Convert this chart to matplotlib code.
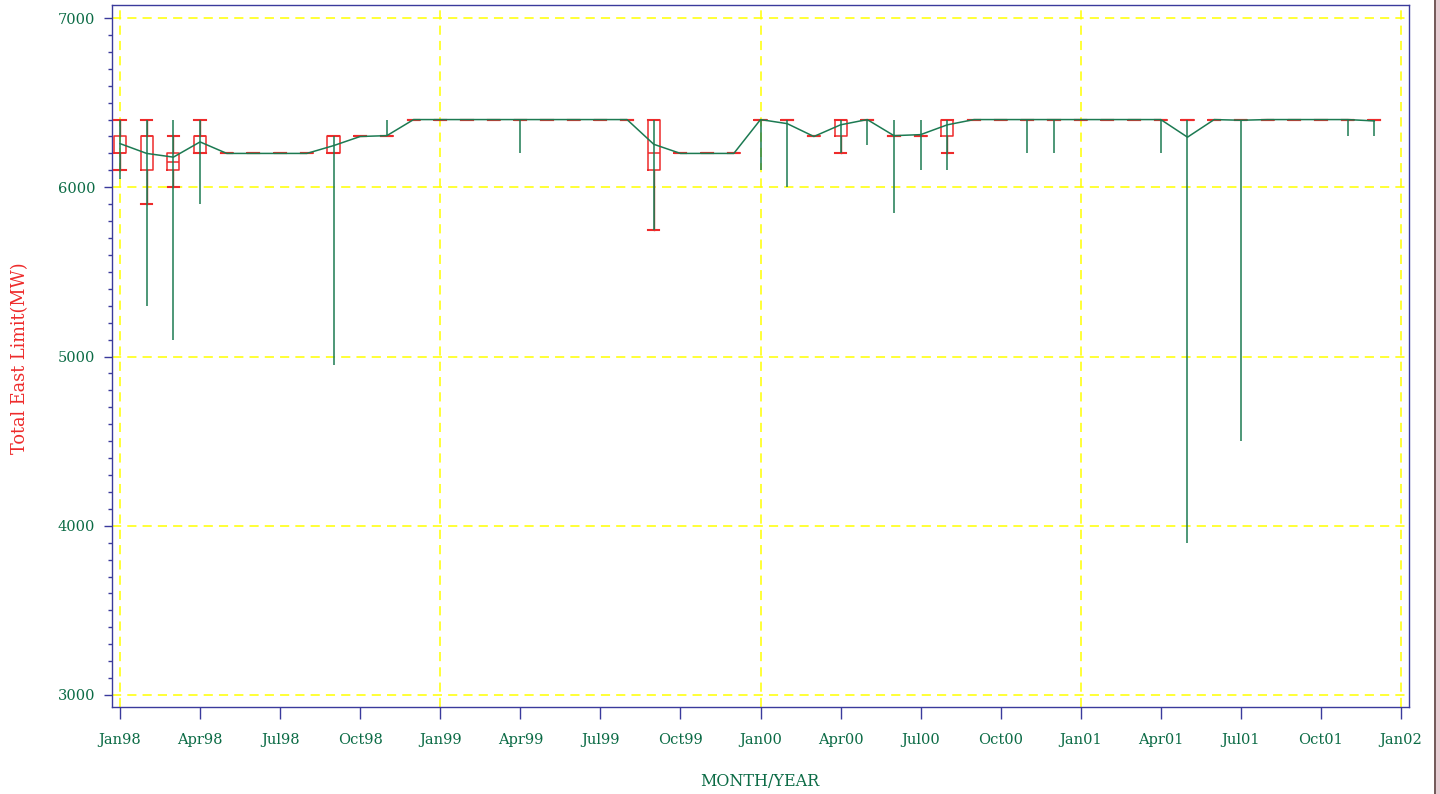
import matplotlib
matplotlib.use("Agg")
import matplotlib.pyplot as plt
from matplotlib.ticker import MultipleLocator
from matplotlib.lines import Line2D
from matplotlib.patches import Rectangle

plt.rcParams['font.family'] = ['DejaVu Serif']

# ---------------- data (monthly, Jan98 .. Dec01) ----------------
months = ["Jan98", "Feb98", "Mar98", "Apr98", "May98", "Jun98", "Jul98", "Aug98", "Sep98", "Oct98", "Nov98", "Dec98",
          "Jan99", "Feb99", "Mar99", "Apr99", "May99", "Jun99", "Jul99", "Aug99", "Sep99", "Oct99", "Nov99", "Dec99",
          "Jan00", "Feb00", "Mar00", "Apr00", "May00", "Jun00", "Jul00", "Aug00", "Sep00", "Oct00", "Nov00", "Dec00",
          "Jan01", "Feb01", "Mar01", "Apr01", "May01", "Jun01", "Jul01", "Aug01", "Sep01", "Oct01", "Nov01", "Dec01"]

q1 = [6200, 6100, 6100, 6200, 6200, 6200, 6200, 6200, 6200, 6300, 6300, 6400,
      6400, 6400, 6400, 6400, 6400, 6400, 6400, 6400, 6100, 6200, 6200, 6200,
      6400, 6400, 6300, 6300, 6400, 6300, 6300, 6300, 6400, 6400, 6400, 6400,
      6400, 6400, 6400, 6400, 6400, 6400, 6400, 6400, 6400, 6400, 6400, 6400]
q3 = [6300, 6300, 6200, 6300, 6200, 6200, 6200, 6200, 6300, 6300, 6300, 6400,
      6400, 6400, 6400, 6400, 6400, 6400, 6400, 6400, 6400, 6200, 6200, 6200,
      6400, 6400, 6300, 6400, 6400, 6300, 6300, 6400, 6400, 6400, 6400, 6400,
      6400, 6400, 6400, 6400, 6400, 6400, 6400, 6400, 6400, 6400, 6400, 6400]
median = [6200, 6300, 6150, 6300, 6200, 6200, 6200, 6200, 6200, 6300, 6300, 6400,
          6400, 6400, 6400, 6400, 6400, 6400, 6400, 6400, 6200, 6200, 6200, 6200,
          6400, 6400, 6300, 6400, 6400, 6300, 6300, 6400, 6400, 6400, 6400, 6400,
          6400, 6400, 6400, 6400, 6400, 6400, 6400, 6400, 6400, 6400, 6400, 6400]
whisk_lo = [6100, 5900, 6000, 6200, 6200, 6200, 6200, 6200, 6200, 6300, 6300, 6400,
            6400, 6400, 6400, 6400, 6400, 6400, 6400, 6400, 5750, 6200, 6200, 6200,
            6400, 6400, 6300, 6200, 6400, 6300, 6300, 6200, 6400, 6400, 6400, 6400,
            6400, 6400, 6400, 6400, 6400, 6400, 6400, 6400, 6400, 6400, 6400, 6400]
whisk_hi = [6400, 6400, 6300, 6400, 6200, 6200, 6200, 6200, 6300, 6300, 6300, 6400,
            6400, 6400, 6400, 6400, 6400, 6400, 6400, 6400, 6400, 6200, 6200, 6200,
            6400, 6400, 6300, 6400, 6400, 6300, 6300, 6400, 6400, 6400, 6400, 6400,
            6400, 6400, 6400, 6400, 6400, 6400, 6400, 6400, 6400, 6400, 6400, 6400]
vmin = [6050, 5300, 5100, 5900, 6200, 6200, 6200, 6200, 4950, 6300, 6300, 6400,
        6400, 6400, 6400, 6200, 6400, 6400, 6400, 6400, 5750, 6200, 6200, 6200,
        6100, 6000, 6300, 6200, 6250, 5850, 6100, 6100, 6400, 6400, 6200, 6200,
        6400, 6400, 6400, 6200, 3900, 6400, 4500, 6400, 6400, 6400, 6300, 6300]
vmax = [6400, 6400, 6400, 6400, 6200, 6200, 6200, 6200, 6300, 6300, 6400, 6400,
        6400, 6400, 6400, 6400, 6400, 6400, 6400, 6400, 6400, 6200, 6200, 6200,
        6400, 6400, 6300, 6400, 6400, 6400, 6400, 6400, 6400, 6400, 6400, 6400,
        6400, 6400, 6400, 6400, 6400, 6400, 6400, 6400, 6400, 6400, 6400, 6400]
mean = [6258, 6200, 6178, 6268, 6200, 6200, 6200, 6200, 6246, 6300, 6305, 6400,
        6400, 6400, 6400, 6400, 6400, 6400, 6400, 6400, 6254, 6200, 6200, 6200,
        6400, 6376, 6300, 6369, 6400, 6305, 6311, 6369, 6400, 6400, 6400, 6400,
        6400, 6400, 6400, 6400, 6296, 6400, 6396, 6400, 6400, 6400, 6400, 6392]

tick_labels = ["Jan98", "Apr98", "Jul98", "Oct98", "Jan99", "Apr99", "Jul99", "Oct99",
               "Jan00", "Apr00", "Jul00", "Oct00", "Jan01", "Apr01", "Jul01", "Oct01", "Jan02"]

# ---------------- styles ----------------
RED = '#ee2b2b'
GREEN = '#1c7a52'
NAVY = '#3a3a9c'
TXT_GREEN = '#0b6b45'
YELLOW = '#ffff00'

fig = plt.figure(figsize=(14.4, 7.94), dpi=100)
fig.patch.set_facecolor('white')
ax = fig.add_axes([112/1440, 1 - 707/794, (1409-112)/1440, (707-5)/794])

x = list(range(len(months)))

stats = []
for i in x:
    stats.append(dict(med=median[i], q1=q1[i], q3=q3[i],
                      whislo=whisk_lo[i], whishi=whisk_hi[i], fliers=[]))

ax.bxp(stats, positions=x, widths=0.45, capwidths=0.42, showfliers=False,
       boxprops=dict(color=RED, linewidth=1.1),
       medianprops=dict(color=RED, linewidth=1.1),
       whiskerprops=dict(color='#b03a2e', linewidth=1.0),
       capprops=dict(color=RED, linewidth=1.5),
       manage_ticks=False, zorder=3)

# min-max range lines
ax.vlines(x, vmin, vmax, color=GREEN, linewidth=1.1, zorder=4)
# mean line
ax.plot(x, mean, color=GREEN, linewidth=1.1, zorder=5)

# axes limits & grid
ax.set_xlim(-0.3, 48.3)
ax.set_ylim(2929, 7077)
for yv in [3000, 4000, 5000, 6000, 7000]:
    ax.axhline(yv, color=YELLOW, linestyle=(0, (6, 4)), linewidth=1.1, zorder=1)
for xv in [0, 12, 24, 36, 48]:
    ax.axvline(xv, color=YELLOW, linestyle=(0, (6, 4)), linewidth=1.1, zorder=1)

ax.set_xticks(list(range(0, 49, 3)))
ax.set_xticklabels(tick_labels)
ax.yaxis.set_major_locator(MultipleLocator(1000))
ax.yaxis.set_minor_locator(MultipleLocator(100))

ax.tick_params(axis='x', which='major', direction='out', length=8.6, width=1.0,
               color=NAVY, labelcolor=TXT_GREEN, labelsize=10.5, pad=10)
ax.tick_params(axis='y', which='major', direction='out', length=6, width=1.0,
               color=NAVY, labelcolor=TXT_GREEN, labelsize=10.5, pad=6)
ax.tick_params(axis='y', which='minor', direction='out', length=3, width=1.0, color=NAVY)

for sp in ax.spines.values():
    sp.set_color(NAVY)
    sp.set_linewidth(1.0)

ax.set_facecolor('white')

fig.text(20/1440, 1 - 358/794, "Total East Limit(MW)", rotation=90, color=RED,
         fontsize=12.8, ha='center', va='center')
fig.text(760/1440, 1 - 782/794, "MONTH/YEAR", color=TXT_GREEN, fontsize=11.5,
         ha='center', va='center')

# right edge artifact (border line)
fig.add_artist(Rectangle((1436/1440, 0), 4/1440, 1, transform=fig.transFigure,
                         facecolor='#e6ccd2', edgecolor='none'))
fig.add_artist(Line2D([1435/1440, 1435/1440], [0, 1], transform=fig.transFigure,
                      color='#5a3c3c', linewidth=1.2))

fig.savefig("out.png", dpi=100)
